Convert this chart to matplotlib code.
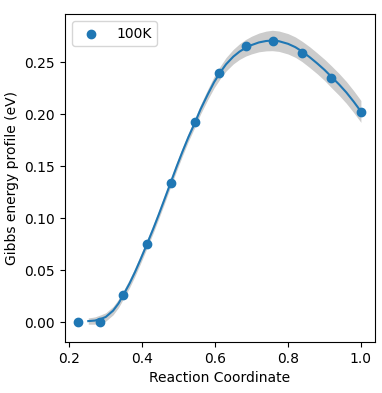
import matplotlib
matplotlib.use("Agg")
import matplotlib.pyplot as plt
import numpy as np

# computed energies along the reaction path
coord = [0.225, 0.285, 0.348, 0.412, 0.478, 0.544, 0.612, 0.684, 0.758, 0.838, 0.918, 1.0]
energy = [0.0, 0.0, 0.026, 0.075, 0.134, 0.192, 0.239, 0.265, 0.270, 0.259, 0.235, 0.202]

# fitted profile and its uncertainty
fit_x = [0.252, 0.27, 0.286, 0.30, 0.32, 0.335, 0.348, 0.365, 0.38, 0.395, 0.413,
         0.43, 0.445, 0.46, 0.478, 0.495, 0.51, 0.527, 0.545, 0.56, 0.58, 0.597,
         0.614, 0.63, 0.65, 0.667, 0.684, 0.70, 0.72, 0.74, 0.757, 0.775, 0.80,
         0.82, 0.838, 0.86, 0.88, 0.90, 0.918, 0.94, 0.96, 0.98, 1.0]
fit_y = [0.001, 0.0015, 0.003, 0.005, 0.011, 0.018, 0.026, 0.037, 0.048, 0.060, 0.075,
         0.0895, 0.103, 0.117, 0.134, 0.150, 0.1635, 0.178, 0.192, 0.2045, 0.219, 0.2305,
         0.240, 0.2478, 0.2552, 0.260, 0.2637, 0.2663, 0.2688, 0.2702, 0.2707, 0.270, 0.2675,
         0.2643, 0.2603, 0.2545, 0.2487, 0.2425, 0.2362, 0.2285, 0.2208, 0.212, 0.2025]
fit_err = [0.003, 0.0035, 0.004, 0.004, 0.004, 0.004, 0.004, 0.004, 0.004, 0.004, 0.004,
           0.004, 0.004, 0.004, 0.004, 0.004, 0.004, 0.004, 0.0042, 0.0045, 0.005, 0.0055,
           0.006, 0.0065, 0.007, 0.0075, 0.008, 0.0085, 0.009, 0.0095, 0.0098, 0.0098, 0.0098,
           0.0098, 0.0098, 0.010, 0.010, 0.0102, 0.0105, 0.0105, 0.0105, 0.0105, 0.0105]

fit_x = np.array(fit_x)
fit_y = np.array(fit_y)
fit_err = np.array(fit_err)

fig = plt.figure(figsize=(3.82, 3.93), dpi=100)
ax = fig.add_axes([0.170, 0.130, 0.812, 0.834])

ax.fill_between(fit_x, fit_y - fit_err, fit_y + fit_err, color='#cccccc', lw=0)
ax.plot(fit_x, fit_y, color='tab:blue', lw=1.5)
ax.scatter(coord, energy, color='tab:blue', label='100K', zorder=3)

ax.set_xlim(0.188, 1.039)
ax.set_ylim(-0.019, 0.296)
ax.set_xticks([0.2, 0.4, 0.6, 0.8, 1.0])
ax.set_yticks([0.0, 0.05, 0.10, 0.15, 0.20, 0.25])
ax.set_xlabel('Reaction Coordinate')
ax.set_ylabel('Gibbs energy profile (eV)')
ax.legend(loc='upper left')

fig.savefig('out.png', dpi=100)
plt.close()
